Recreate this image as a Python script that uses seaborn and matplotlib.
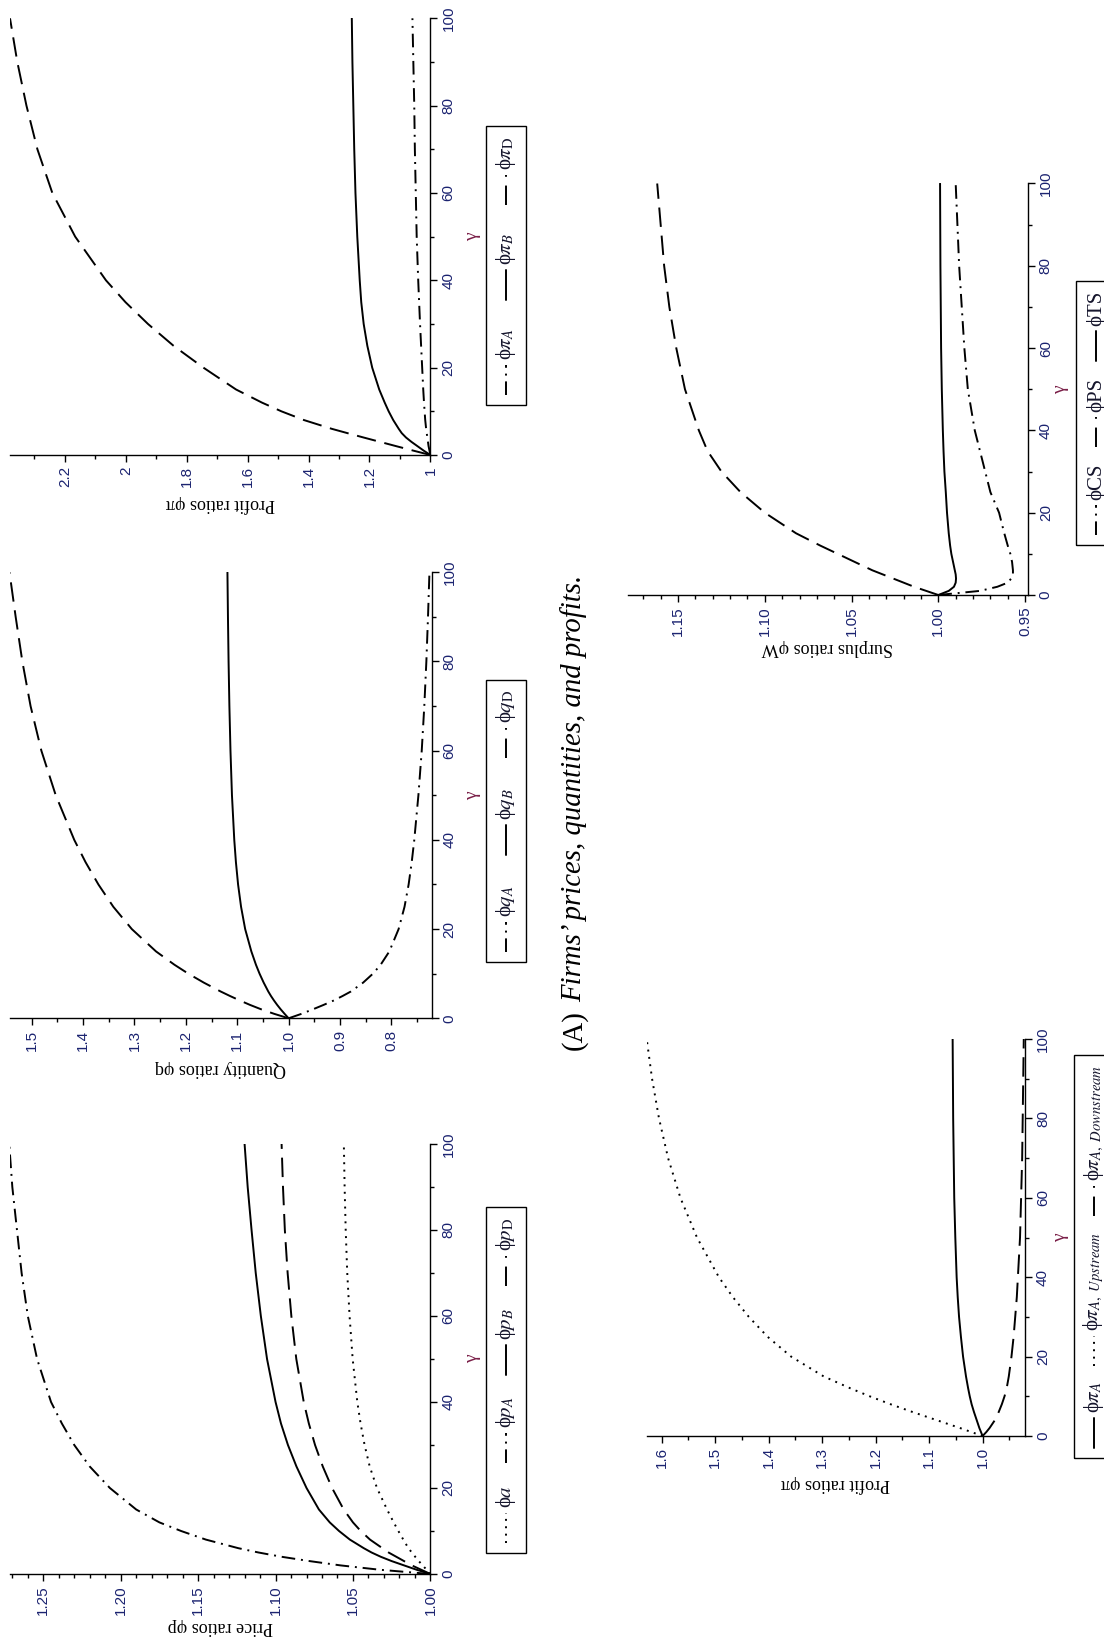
import matplotlib
matplotlib.use("Agg")
import numpy as np
import pandas as pd
import matplotlib.pyplot as plt
import seaborn as sns
from matplotlib.patches import Rectangle
from matplotlib.lines import Line2D
from matplotlib.ticker import FixedLocator

sns.set_theme(style="white")
plt.rcParams["font.family"] = ["Liberation Serif", "DejaVu Serif"]
plt.rcParams["mathtext.fontset"] = "stix"

# ---------------------------------------------------------------- data
GAMMA = [0, 1, 2, 3, 4, 5, 6, 8, 10, 12, 15, 20, 25, 30, 35, 40, 50, 60, 70, 80, 90, 100]

# price ratios
phi_a = [1.000, 1.0025, 1.005, 1.0075, 1.0098, 1.012, 1.0142, 1.0175, 1.0207, 1.0237, 1.028,
         1.0345, 1.0392, 1.0425, 1.0451, 1.0472, 1.0502, 1.0522, 1.0537, 1.0547, 1.0554, 1.0559]
phi_pA = [1.000, 1.033, 1.058, 1.078, 1.096, 1.111, 1.124, 1.145, 1.161, 1.175, 1.190,
          1.207, 1.220, 1.230, 1.238, 1.245, 1.254, 1.260, 1.264, 1.267, 1.270, 1.272]
phi_pB = [1.000, 1.009, 1.017, 1.025, 1.032, 1.038, 1.043, 1.052, 1.059, 1.065, 1.072,
          1.080, 1.0865, 1.092, 1.0965, 1.100, 1.1055, 1.1095, 1.1128, 1.1155, 1.118, 1.120]
phi_pD = [1.000, 1.006, 1.012, 1.017, 1.022, 1.027, 1.031, 1.039, 1.045, 1.050, 1.056,
          1.0635, 1.0695, 1.0745, 1.0785, 1.0818, 1.0866, 1.0898, 1.0922, 1.094, 1.0952, 1.0961]

# quantity ratios
phi_qA = [1.000, 0.975, 0.953, 0.932, 0.912, 0.895, 0.879, 0.855, 0.836, 0.821, 0.804,
          0.786, 0.7745, 0.7665, 0.7605, 0.7555, 0.7475, 0.741, 0.736, 0.732, 0.7288, 0.726]
phi_qB = [1.000, 1.0078, 1.0153, 1.0222, 1.0285, 1.0343, 1.0395, 1.0485, 1.0565, 1.0635, 1.0725,
          1.0845, 1.0925, 1.0983, 1.1025, 1.1057, 1.1102, 1.1131, 1.1152, 1.1168, 1.118, 1.119]
phi_qD = [1.000, 1.028, 1.053, 1.075, 1.095, 1.114, 1.132, 1.165, 1.195, 1.222, 1.258,
          1.305, 1.341, 1.370, 1.395, 1.417, 1.453, 1.481, 1.502, 1.518, 1.531, 1.543]

# profit ratios
phi_piA = [1.000, 1.003, 1.006, 1.008, 1.010, 1.012, 1.014, 1.017, 1.019, 1.021, 1.0235,
           1.027, 1.0305, 1.034, 1.037, 1.040, 1.045, 1.048, 1.051, 1.053, 1.056, 1.059]
phi_piB = [1.000, 1.022, 1.042, 1.062, 1.080, 1.094, 1.104, 1.122, 1.137, 1.150, 1.168,
           1.191, 1.207, 1.219, 1.227, 1.232, 1.240, 1.246, 1.250, 1.253, 1.256, 1.258]
phi_piD = [1.000, 1.056, 1.111, 1.165, 1.219, 1.272, 1.324, 1.415, 1.489, 1.553, 1.638,
           1.745, 1.843, 1.927, 2.001, 2.065, 2.166, 2.241, 2.290, 2.326, 2.356, 2.380]

# surplus ratios
phi_CS = [1.000, 0.976, 0.966, 0.960, 0.958, 0.957, 0.957, 0.9575, 0.9585, 0.960, 0.962,
          0.965, 0.970, 0.973, 0.976, 0.979, 0.983, 0.985, 0.9865, 0.988, 0.989, 0.990]
phi_PS = [1.000, 1.007, 1.014, 1.020, 1.026, 1.032, 1.038, 1.048, 1.058, 1.068, 1.082,
          1.100, 1.114, 1.125, 1.133, 1.138, 1.146, 1.151, 1.155, 1.158, 1.160, 1.162]
phi_TS = [1.000, 0.994, 0.991, 0.990, 0.9898, 0.990, 0.9905, 0.9915, 0.9925, 0.9932, 0.994,
          0.995, 0.9957, 0.9965, 0.997, 0.9974, 0.998, 0.9984, 0.9986, 0.9988, 0.9989, 0.999]

# firm A profit split
phi_piA_total = [1.000, 1.003, 1.006, 1.0085, 1.011, 1.0135, 1.016, 1.0205, 1.024, 1.027, 1.031,
                 1.0365, 1.0405, 1.044, 1.0465, 1.0485, 1.051, 1.053, 1.054, 1.055, 1.0555, 1.056]
phi_piA_up = [1.000, 1.021, 1.042, 1.064, 1.086, 1.108, 1.130, 1.172, 1.211, 1.247, 1.297,
              1.358, 1.402, 1.437, 1.467, 1.493, 1.534, 1.565, 1.588, 1.605, 1.618, 1.628]
phi_piA_down = [1.000, 0.993, 0.987, 0.982, 0.977, 0.973, 0.970, 0.964, 0.959, 0.955, 0.951,
                0.946, 0.942, 0.939, 0.936, 0.934, 0.930, 0.928, 0.926, 0.925, 0.924, 0.923]

# ---------------------------------------------------------------- styling
W, H, DPI = 1104, 1652, 100
NAVY = "#1b2370"
MAROON = "#7a1f48"
INK = "#15152c"
LW = 1.4

SOLID = ""
DASH = (10, 4.5)
DASHDOT = (7, 3, 1, 3)
DOT = (1, 2.8)

PHI = "\u03d5"

fig = plt.figure(figsize=(W / DPI, H / DPI), dpi=DPI)
fig.patch.set_facecolor("white")
renderer = fig.canvas.get_renderer()


def fx(x):
    return x / W


def fy(y):
    return 1 - y / H


def frange(a, b, step):
    return list(np.round(np.arange(a, b + step / 2, step), 4))


PANELS = [
    dict(rect=(10, 18.3, 430.4, 455), vlim=(2.38, 1.0),
         majors=[1, 1.2, 1.4, 1.6, 1.8, 2, 2.2],
         labels=["1", "1.2", "1.4", "1.6", "1.8", "2", "2.2"],
         minors=frange(1.1, 2.3, 0.1),
         vlabel="Profit ratios \u03c6\u03c0", lab_off=49, gx=473,
         legend=(486, 126, 526, 405),
         series=[(PHI + r"$\pi_A$", phi_piA, DASHDOT),
                 (PHI + r"$\pi_B$", phi_piB, SOLID),
                 (PHI + r"$\pi_\mathrm{D}$", phi_piD, DASH)]),
    dict(rect=(9.5, 572.3, 431.5, 1018.3), vlim=(1.543, 0.722),
         majors=[0.8, 0.9, 1.0, 1.1, 1.2, 1.3, 1.4, 1.5],
         labels=["0.8", "0.9", "1.0", "1.1", "1.2", "1.3", "1.4", "1.5"],
         minors=frange(0.75, 1.5, 0.05),
         vlabel="Quantity ratios \u03c6q", lab_off=50, gx=473,
         legend=(486, 680, 526, 962),
         series=[(PHI + r"$q_A$", phi_qA, DASHDOT),
                 (PHI + r"$q_B$", phi_qB, SOLID),
                 (PHI + r"$q_\mathrm{D}$", phi_qD, DASH)]),
    dict(rect=(10, 1144, 430.4, 1574), vlim=(1.2715, 1.0),
         majors=[1.00, 1.05, 1.10, 1.15, 1.20, 1.25],
         labels=["1.00", "1.05", "1.10", "1.15", "1.20", "1.25"],
         minors=frange(1.01, 1.27, 0.01),
         vlabel="Price ratios \u03c6p", lab_off=52, gx=473,
         legend=(486, 1207, 526, 1553),
         series=[(PHI + r"$a$", phi_a, DOT),
                 (PHI + r"$p_A$", phi_pA, DASHDOT),
                 (PHI + r"$p_B$", phi_pB, SOLID),
                 (PHI + r"$p_\mathrm{D}$", phi_pD, DASH)]),
    dict(rect=(627.7, 183.5, 1027.7, 595), vlim=(1.179, 0.9485),
         majors=[0.95, 1.00, 1.05, 1.10, 1.15],
         labels=["0.95", "1.00", "1.05", "1.10", "1.15"],
         minors=frange(0.96, 1.17, 0.01),
         vlabel="Surplus ratios \u03c6W", lab_off=52, gx=1061,
         legend=(1076, 281, 1116, 545),
         series=[(PHI + "CS", phi_CS, DASHDOT),
                 (PHI + "PS", phi_PS, DASH),
                 (PHI + "TS", phi_TS, SOLID)]),
    dict(rect=(646.7, 1039, 1025, 1436), vlim=(1.628, 0.9207),
         majors=[1.0, 1.1, 1.2, 1.3, 1.4, 1.5, 1.6],
         labels=["1.0", "1.1", "1.2", "1.3", "1.4", "1.5", "1.6"],
         minors=frange(0.95, 1.6, 0.05),
         vlabel="Profit ratios \u03c6\u03c0", lab_off=48, gx=1061,
         legend=(1074, 1055, 1114, 1458),
         series=[(PHI + r"$\pi_A$", phi_piA_total, SOLID),
                 (PHI + r"$\pi_{A,\ Upstream}$", phi_piA_up, DOT),
                 (PHI + r"$\pi_{A,\ Downstream}$", phi_piA_down, DASH)]),
]


def draw_legend(box, series, fs=15, seg=30, gap_lt=5, pad=10):
    bx0, by0, bx1, by1 = box
    fig.add_artist(Rectangle((fx(bx0), fy(by1)), (bx1 - bx0) / W, (by1 - by0) / H,
                             transform=fig.transFigure, fill=False,
                             ec="black", lw=1.0))
    xc = (bx0 + bx1) / 2
    texts, heights = [], []
    for name, _, _ in series:
        t = fig.text(fx(xc), 0.5, name, rotation=90, ha="center", va="bottom",
                     fontsize=fs, color=INK)
        texts.append(t)
        heights.append(t.get_window_extent(renderer).height)
    n = len(series)
    used = sum(seg + gap_lt + h for h in heights)
    gap = (by1 - by0 - 2 * pad - used) / max(n - 1, 1)
    cur = by1 - pad
    for (name, _, dash), t, h in zip(series, texts, heights):
        ls = "-" if dash == SOLID else (0, dash)
        fig.add_artist(Line2D([fx(xc), fx(xc)], [fy(cur), fy(cur - seg)],
                              transform=fig.transFigure, color="black",
                              lw=LW, linestyle=ls))
        cur -= seg + gap_lt
        t.set_position((fx(xc), fy(cur)))
        cur -= h + gap


def draw_panel(cfg):
    x0, y0, x1, y1 = cfg["rect"]
    ax = fig.add_axes([fx(x0), fy(y1), (x1 - x0) / W, (y1 - y0) / H])
    ax.set_facecolor("none")
    frames = [pd.DataFrame({"gamma": GAMMA, "ratio": vals, "series": name})
              for name, vals, _ in cfg["series"]]
    df = pd.concat(frames, ignore_index=True)
    sns.lineplot(data=df, x="ratio", y="gamma", style="series",
                 dashes={name: d for name, _, d in cfg["series"]},
                 color="black", linewidth=LW, sort=False, estimator=None,
                 legend=False, ax=ax)
    ax.set_xlim(*cfg["vlim"])
    ax.set_ylim(0, 100)
    ax.set_xlabel("")
    ax.set_ylabel("")
    ax.grid(False)
    for s in ("top", "left"):
        ax.spines[s].set_visible(False)
    for s in ("right", "bottom"):
        ax.spines[s].set_color("black")
        ax.spines[s].set_linewidth(1.0)
    ax.yaxis.tick_right()
    ax.set_xticks(cfg["majors"])
    ax.set_xticklabels(cfg["labels"])
    ax.xaxis.set_minor_locator(FixedLocator(cfg["minors"]))
    ax.set_yticks(list(range(0, 101, 20)))
    ax.set_yticklabels([str(v) for v in range(0, 101, 20)])
    ax.yaxis.set_minor_locator(FixedLocator(list(range(10, 100, 20))))
    ax.tick_params(which="both", direction="out", color="black", width=1.0,
                   bottom=True, right=True, left=False, top=False,
                   labelbottom=True, labelright=True, labelleft=False)
    ax.tick_params(which="major", length=5, labelsize=11, labelcolor=NAVY, pad=3)
    ax.tick_params(which="minor", length=3)
    ax.tick_params(axis="x", labelrotation=90)
    ax.tick_params(axis="y", labelrotation=90)
    for t in ax.get_xticklabels() + ax.get_yticklabels():
        t.set_fontfamily("Liberation Sans")
    for t in ax.get_yticklabels():
        t.set_verticalalignment("center")

    # value-axis title (upside down) and gamma title
    fig.text(fx((x0 + x1) / 2), fy(y1 + cfg["lab_off"]), cfg["vlabel"],
             rotation=180, ha="center", va="center", fontsize=13, color="black")
    fig.text(fx(cfg["gx"]), fy((y0 + y1) / 2), "\u03b3", rotation=90,
             ha="center", va="center", fontsize=14, color=MAROON)
    draw_legend(cfg["legend"], cfg["series"])


for cfg in PANELS:
    draw_panel(cfg)

# caption, reading upward
cap_x, cap_bottom, cap_top = 574, 1050, 576
c1 = fig.text(fx(cap_x), fy(cap_bottom), "(A)", rotation=90, ha="center",
              va="bottom", fontsize=20, color="black")
c2 = fig.text(fx(cap_x), 0.5, "Firms\u2019 prices, quantities, and profits.",
              rotation=90, ha="center", va="bottom", fontsize=20,
              style="italic", color="black")
h1 = c1.get_window_extent(renderer).height
h2 = c2.get_window_extent(renderer).height
scale = (cap_bottom - cap_top) / (h1 + h2 + 0.28 * 20 * DPI / 72)
cap_fs = 20 * scale
c1.set_fontsize(cap_fs)
c2.set_fontsize(cap_fs)
h1 = c1.get_window_extent(renderer).height
c2.set_position((fx(cap_x), fy(cap_bottom - h1 - 0.28 * cap_fs * DPI / 72)))

fig.savefig("out.png", dpi=DPI, facecolor="white")
